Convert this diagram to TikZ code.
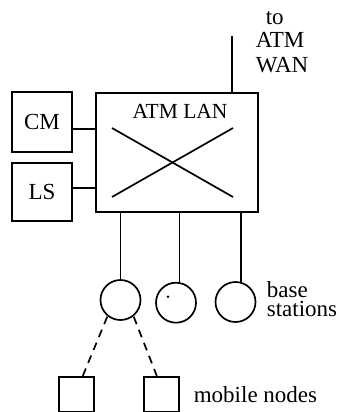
\documentclass[tikz,border=0pt]{standalone}
\usepackage{fontspec}
\setmainfont{Liberation Serif}
\begin{document}
\begin{tikzpicture}[x=1pt,y=-1pt,
  line width=1.7pt,
  lbl/.style={inner sep=0pt,anchor=base west,font=\fontsize{23}{23}\selectfont},
  sidebox/.style={draw,minimum width=60pt,minimum height=60pt,inner sep=0pt,font=\fontsize{23}{23}\selectfont},
  lanbox/.style={draw,minimum width=162pt,minimum height=119pt,inner sep=0pt},
  bstation/.style={draw,circle,minimum size=40pt,inner sep=0pt},
  mobile/.style={draw,minimum width=35pt,minimum height=35pt,inner sep=0pt},
  wireless/.style={dash pattern=on 8pt off 6pt}]
\useasboundingbox (0,0) rectangle (339,412);
\clip (0,0) rectangle (339,412);
% ATM LAN switch
\node[lanbox] (atm) at (177,152.5) {};
\node[inner sep=0pt,anchor=base,font=\fontsize{21.5}{21.5}\selectfont] (atmlan) at (180,118) {ATM LAN};
\draw (112,128) -- (233,197);
\draw (112,197) -- (233,128);
% side boxes
\node[sidebox] (cm) at (42,122) {CM};
\node[sidebox,minimum height=58pt] (ls) at (42,192) {LS};
\draw ([yshift=-7pt]cm.east) -- ([yshift=-7pt]cm.east -| atm.west);
\draw ([yshift=4pt]ls.east) -- ([yshift=4pt]ls.east -| atm.west);
% WAN uplink
\coordinate (wan) at (232,36);
\draw (wan) -- (wan |- atm.north);
\node[lbl] (to) at (265,25) {to};
\node[lbl] (atmw) at (255,48) {ATM};
\node[lbl] (wanw) at (255,72) {WAN};
% base stations
\node[bstation] (bs1) at (120.5,300) {};
\node[bstation] (bs2) at (176,302.7) {};
\node[bstation] (bs3) at (235.5,302) {};
\fill (168,296.7) circle (1.3pt);
\draw (bs1.north) -- (bs1.north |- atm.south);
\draw (bs2.80) -- (bs2.80 |- atm.south);
\draw (bs3.75) -- (bs3.75 |- atm.south);
\node[inner sep=0pt,anchor=north west,align=left,font=\fontsize{23}{19}\selectfont] (bsl) at (266,280.6) {base\\stations};
% mobile nodes
\node[mobile] (mn1) at (76.8,394.2) {};
\node[mobile] (mn2) at (161.8,394.2) {};
\draw[wireless] ([shift={(1.5pt,-2pt)}]bs1.south west) -- ([xshift=6pt]mn1.north);
\draw[wireless] ([shift={(-1.5pt,-2pt)}]bs1.south east) -- ([xshift=-5pt]mn2.north);
\node[lbl] (mob) at (193,402) {mobile nodes};
\end{tikzpicture}
\end{document}
